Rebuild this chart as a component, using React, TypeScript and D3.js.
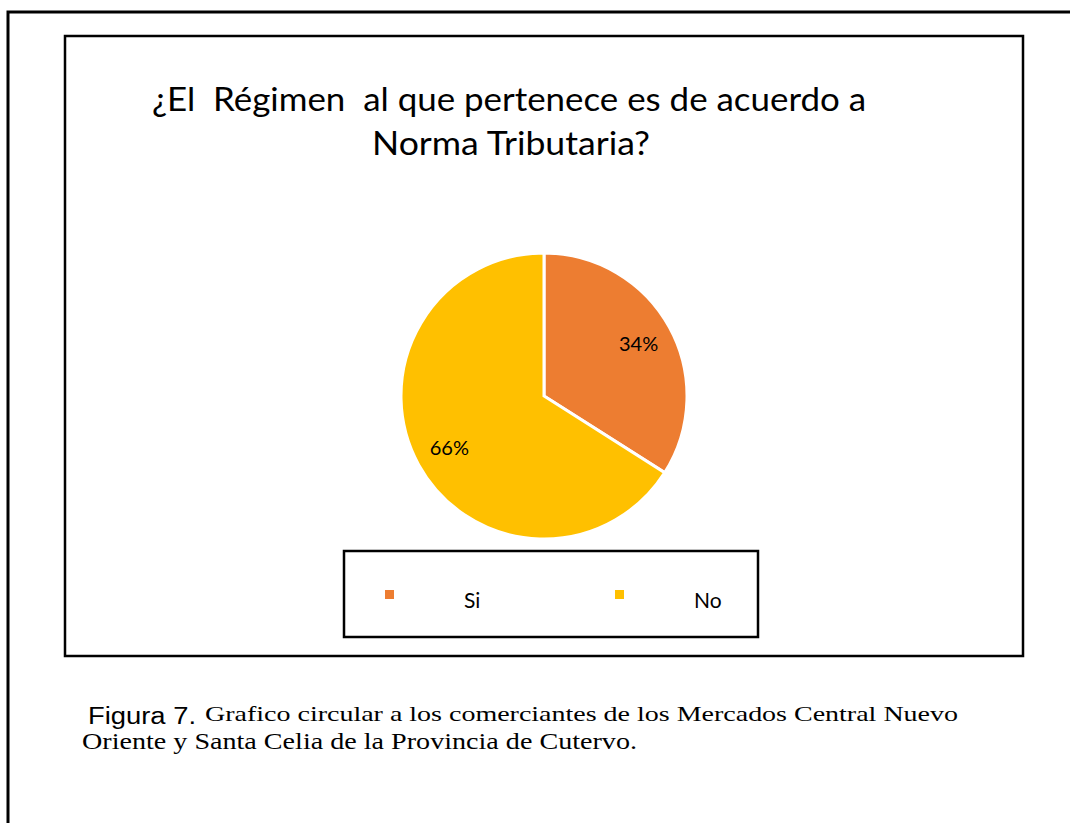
import * as d3 from "d3";

const categories: string[] = ["Si", "No"];
const percentages: number[] = [34, 66];
const sliceColors: string[] = ["#ED7D31", "#FFC000"];
const titleLines: string[] = [
  "¿El  Régimen  al que pertenece es de acuerdo a",
  "Norma Tributaria?",
];

interface Slice {
  name: string;
  value: number;
  color: string;
}

const slices: Slice[] = categories.map((c, i) => ({
  name: c,
  value: percentages[i],
  color: sliceColors[i],
}));

const App = () => {
  const width = 1070;
  const height = 823;
  const cx = 544;
  const cy = 396;
  const radius = 143;

  const pieGenerator = d3
    .pie<Slice>()
    .sort(null)
    .value((d) => d.value);
  const arcs = pieGenerator(slices);

  const arcGenerator = d3.arc<d3.PieArcDatum<Slice>>().innerRadius(0).outerRadius(radius);
  const labelArc = d3.arc<d3.PieArcDatum<Slice>>().innerRadius(108).outerRadius(108);

  // legend slots, one per category
  const legendScale = d3.scaleBand<string>().domain(categories).range([380, 840]);

  const sans = "Lato, 'Open Sans', sans-serif";
  const serif = "'Liberation Serif', 'Times New Roman', serif";

  return (
    <svg
      width={width}
      height={height}
      style={{ position: "absolute", left: 0, top: 0, display: "block", background: "#fff" }}
    >
      {/* outer page frame */}
      <path d="M8,850 L8,12 L1080,12" fill="none" stroke="#000" strokeWidth={3} />
      {/* chart area */}
      <rect x={65} y={36} width={958} height={620} fill="#fff" stroke="#000" strokeWidth={2.5} />

      <g fontFamily={sans} fill="#000">
        <text
          x={152}
          y={111}
          fontSize={33}
          xmlSpace="preserve"
          style={{ whiteSpace: "pre" }}
          textLength={714}
          lengthAdjust="spacingAndGlyphs"
        >
          {titleLines[0]}
        </text>
        <text x={372} y={155} fontSize={33} textLength={278} lengthAdjust="spacingAndGlyphs">
          {titleLines[1]}
        </text>
      </g>

      <g transform={`translate(${cx},${cy})`}>
        {arcs.map((a) => (
          <path key={a.data.name} d={arcGenerator(a) || ""} fill={a.data.color} stroke="#fff" strokeWidth={3} />
        ))}
        {arcs.map((a) => {
          const [lx, ly] = labelArc.centroid(a);
          return (
            <text
              key={`l-${a.data.name}`}
              x={lx}
              y={ly}
              dy="0.35em"
              textAnchor="middle"
              fontFamily={sans}
              fontSize={20}
              fill="#000"
            >
              {`${a.data.value}%`}
            </text>
          );
        })}
      </g>

      {/* legend */}
      <rect x={344} y={551} width={414} height={86} fill="#fff" stroke="#000" strokeWidth={2.5} />
      {categories.map((c, i) => {
        const x = legendScale(c) || 0;
        return (
          <g key={`lg-${c}`}>
            <rect x={x + 5} y={590} width={9} height={9} fill={sliceColors[i]} />
            <text x={x + 84} y={608} fontFamily={sans} fontSize={21} fill="#000">
              {c}
            </text>
          </g>
        );
      })}

      {/* caption */}
      <text
        x={88}
        y={724}
        fontFamily="'Liberation Sans Narrow', 'Arial Narrow', sans-serif"
        fontSize={23}
        fill="#000"
        textLength={108}
        lengthAdjust="spacingAndGlyphs"
      >
        Figura 7.
      </text>
      <text x={205} y={721} fontFamily={serif} fontSize={22} fill="#000" textLength={753} lengthAdjust="spacingAndGlyphs">
        Grafico circular a los comerciantes de los Mercados Central Nuevo
      </text>
      <text x={82} y={749} fontFamily={serif} fontSize={23} fill="#000" textLength={555} lengthAdjust="spacingAndGlyphs">
        Oriente y Santa Celia de la Provincia de Cutervo.
      </text>
    </svg>
  );
};

export default App;
